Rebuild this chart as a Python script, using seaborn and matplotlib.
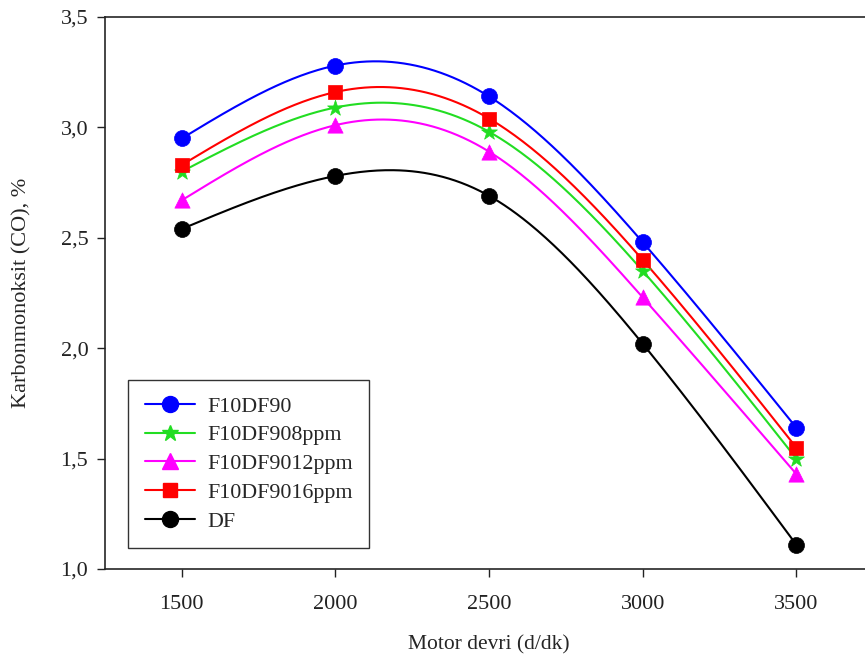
import numpy as np
import pandas as pd
import seaborn as sns
import matplotlib.pyplot as plt
from matplotlib.ticker import FuncFormatter
from matplotlib.lines import Line2D

rpm = [1500, 2000, 2500, 3000, 3500]
f10df90 = [2.95, 3.28, 3.14, 2.48, 1.64]
f10df908 = [2.80, 3.09, 2.98, 2.35, 1.50]
f10df9012 = [2.67, 3.01, 2.89, 2.23, 1.43]
f10df9016 = [2.83, 3.16, 3.04, 2.40, 1.55]
df_fuel = [2.54, 2.78, 2.69, 2.02, 1.11]

series = {
    "F10DF90": (f10df90, "#0000ff", "o", 11.5),
    "F10DF908ppm": (f10df908, "#22dd22", "*", 12),
    "F10DF9012ppm": (f10df9012, "#ff00ff", "^", 11),
    "F10DF9016ppm": (f10df9016, "#ff0000", "s", 10),
    "DF": (df_fuel, "#000000", "o", 11.5),
}


def natural_spline(x, y, xs):
    x = np.asarray(x, float)
    y = np.asarray(y, float)
    n = len(x)
    h = np.diff(x)
    A = np.zeros((n, n))
    b = np.zeros(n)
    A[0, 0] = A[-1, -1] = 1
    for i in range(1, n - 1):
        A[i, i - 1] = h[i - 1]
        A[i, i] = 2 * (h[i - 1] + h[i])
        A[i, i + 1] = h[i]
        b[i] = 6 * ((y[i + 1] - y[i]) / h[i] - (y[i] - y[i - 1]) / h[i - 1])
    M = np.linalg.solve(A, b)
    idx = np.clip(np.searchsorted(x, xs) - 1, 0, n - 2)
    x0, x1 = x[idx], x[idx + 1]
    hh = x1 - x0
    t0, t1 = x1 - xs, xs - x0
    return (M[idx] * t0**3 / (6 * hh) + M[idx + 1] * t1**3 / (6 * hh)
            + (y[idx] / hh - M[idx] * hh / 6) * t0
            + (y[idx + 1] / hh - M[idx + 1] * hh / 6) * t1)


sns.set_style("ticks")
plt.rcParams["font.family"] = ["Liberation Serif", "DejaVu Serif"]

fig = plt.figure(figsize=(8.65, 6.58), dpi=100)
ax = fig.add_axes([0.1214, 0.1353, 0.888, 0.8389])

xs = np.linspace(rpm[0], rpm[-1], 300)
handles = []
for name, (vals, color, marker, ms) in series.items():
    curve = pd.DataFrame({"x": xs, "y": natural_spline(rpm, vals, xs)})
    sns.lineplot(data=curve, x="x", y="y", color=color, linewidth=1.5,
                 ax=ax, sort=False, estimator=None)
    pts = pd.DataFrame({"x": rpm, "y": vals})
    sns.scatterplot(data=pts, x="x", y="y", color=color, marker=marker,
                    s=ms**2, edgecolor=color, linewidth=0.5, ax=ax, zorder=5)
    handles.append(Line2D([], [], color=color, marker=marker, markersize=ms,
                          linewidth=1.5, label=name))

ax.set_xlim(1250, 3750)
ax.set_ylim(1.0, 3.5)
ax.set_xticks(rpm)
ax.set_yticks([1.0, 1.5, 2.0, 2.5, 3.0, 3.5])
ax.yaxis.set_major_formatter(FuncFormatter(lambda v, p: f"{v:.1f}".replace(".", ",")))
ax.tick_params(direction="out", length=6, width=1, labelsize=16, colors="#222222", pad=6)
ax.tick_params(axis="x", pad=13)
for s in ax.spines.values():
    s.set_linewidth(1.2)
ax.set_xlabel("Motor devri (d/dk)", fontsize=15.5, labelpad=15)
ax.set_ylabel("Karbonmonoksit (CO), %", fontsize=16, labelpad=21)

leg = ax.legend(handles=handles, loc="lower left", bbox_to_anchor=(0.03, 0.038),
                borderaxespad=0, fancybox=False, edgecolor="black", fontsize=15.8,
                handlelength=2.3, labelspacing=0.38, borderpad=0.75, handletextpad=0.55)
leg.get_frame().set_linewidth(1.0)

fig.savefig("out.png", dpi=100)
